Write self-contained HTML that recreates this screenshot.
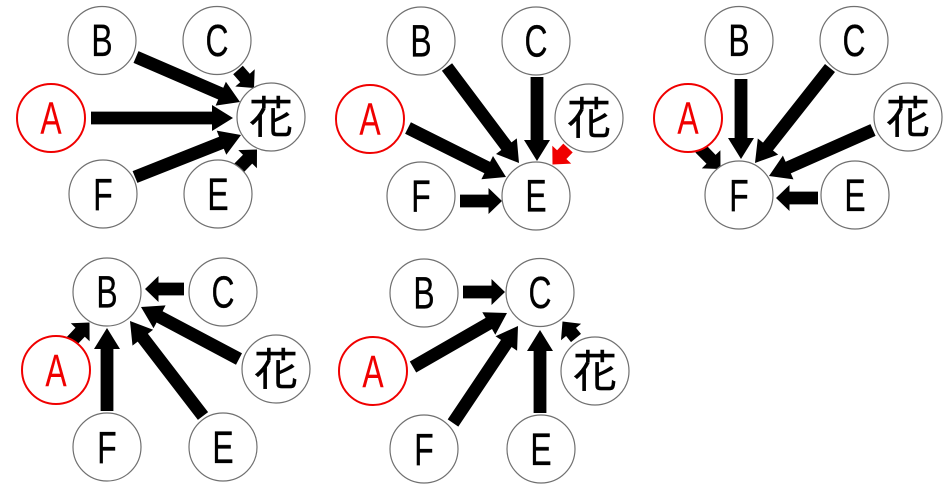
<!DOCTYPE html>
<html lang="ja">
<head>
<meta charset="utf-8">
<title>Diagram</title>
<style>
html,body{margin:0;padding:0;background:#fff;width:951px;height:491px;overflow:hidden}
svg{display:block}
#all{filter:blur(.35px)}
circle{fill:#fff;stroke:#707070;stroke-width:1.2}
circle.a{stroke:#f00000;stroke-width:2}
text{font-family:"Liberation Sans","Noto Sans CJK JP",sans-serif;font-size:45.5px;text-anchor:middle;fill:#000;stroke:#000;stroke-width:.3}
text.a{fill:#f00000;stroke:#f00000;stroke-width:.1}
text.k{font-size:44px;stroke-width:.4}
</style>
</head>
<body>
<svg id="s" xmlns="http://www.w3.org/2000/svg" width="951" height="491" viewBox="0 0 951 491">
<g id="all">
<g id="arrows"></g>
<g>
<circle cx="102" cy="40.5" r="34"/><text transform="translate(102 56) scale(.7 1)">B</text>
<circle cx="217" cy="40.5" r="34"/><text transform="translate(217 56) scale(.7 1)">C</text>
<circle class="a" cx="51" cy="118" r="34"/><text class="a" transform="translate(51 133.500) scale(.7 1)">A</text>
<circle cx="271" cy="117" r="34"/><text class="k" x="271" y="133">花</text>
<circle cx="103" cy="194" r="34"/><text transform="translate(103 210) scale(.7 1)">F</text>
<circle cx="218" cy="194" r="34"/><text transform="translate(218 210) scale(.7 1)">E</text>

<circle cx="421" cy="41" r="34"/><text transform="translate(421 56.500) scale(.7 1)">B</text>
<circle cx="536" cy="41" r="34"/><text transform="translate(536 56.500) scale(.7 1)">C</text>
<circle class="a" cx="370" cy="119" r="34"/><text class="a" transform="translate(370 134.500) scale(.7 1)">A</text>
<circle cx="589" cy="118" r="34"/><text class="k" x="589" y="134">花</text>
<circle cx="421" cy="196" r="34"/><text transform="translate(421 211.500) scale(.7 1)">F</text>
<circle cx="536" cy="196" r="34"/><text transform="translate(536 211.500) scale(.7 1)">E</text>

<circle cx="739" cy="40.5" r="34"/><text transform="translate(739 56) scale(.7 1)">B</text>
<circle cx="854" cy="40.5" r="34"/><text transform="translate(854 56) scale(.7 1)">C</text>
<circle class="a" cx="688" cy="118" r="34"/><text class="a" transform="translate(688 133.500) scale(.7 1)">A</text>
<circle cx="908" cy="117" r="34"/><text class="k" x="908" y="133">花</text>
<circle cx="739" cy="195" r="34"/><text transform="translate(739 211) scale(.7 1)">F</text>
<circle cx="855" cy="195" r="34"/><text transform="translate(855 211) scale(.7 1)">E</text>

<circle cx="107" cy="292" r="34"/><text transform="translate(107 307.500) scale(.7 1)">B</text>
<circle cx="223" cy="292" r="34"/><text transform="translate(223 307.500) scale(.7 1)">C</text>
<circle class="a" cx="56" cy="370" r="34"/><text class="a" transform="translate(56 386) scale(.7 1)">A</text>
<circle cx="276" cy="369" r="34"/><text class="k" x="276" y="385">花</text>
<circle cx="107" cy="447" r="34"/><text transform="translate(107 463) scale(.7 1)">F</text>
<circle cx="223" cy="447" r="34"/><text transform="translate(223 463) scale(.7 1)">E</text>

<circle cx="424" cy="293" r="34"/><text transform="translate(424 308.500) scale(.7 1)">B</text>
<circle cx="540" cy="292.500" r="34"/><text transform="translate(540 308) scale(.7 1)">C</text>
<circle class="a" cx="373" cy="371" r="34"/><text class="a" transform="translate(373 387) scale(.7 1)">A</text>
<circle cx="595" cy="371" r="34"/><text class="k" x="595" y="387">花</text>
<circle cx="424" cy="449" r="34"/><text transform="translate(424 465) scale(.7 1)">F</text>
<circle cx="541" cy="449" r="34"/><text transform="translate(541 465) scale(.7 1)">E</text>
</g>
</g>
</svg>
<script>
var data=[
[136,57,240,102],[91,118,233,118],[238,70,254,88],[135,177,241,135],[238,169,257,149.5],
[447,67,519,163],[537,77,537,161],[408,128,506,177],[568,148,552.5,164.5,'#f00000'],[460,201,502,201],
[741,79,741,159],[830,68,755,163],[873,130,769,176],[700,148,720.5,169],[818,198,776,198],
[184,289,145,289],[239,359,141,307],[203,416,130,321],[107,411,107,328],[68,345,89.5,322.5],
[463,292,505,292],[413,367,507,313],[453,423,518,326],[540,413,540,330],[576,338,562.5,321.5]
];
var g=document.getElementById('arrows');
data.forEach(function(d){
  var dx=d[2]-d[0],dy=d[3]-d[1],L=Math.sqrt(dx*dx+dy*dy),ux=dx/L,uy=dy/L,nx=-uy,ny=ux;
  var sw=6.4,hw=13,hl=L<50?13.5:21;
  var bx=d[2]-ux*hl,by=d[3]-uy*hl;
  var pts=[
    [d[0]+nx*sw,d[1]+ny*sw],[bx+nx*sw,by+ny*sw],[bx+nx*hw,by+ny*hw],
    [d[2],d[3]],
    [bx-nx*hw,by-ny*hw],[bx-nx*sw,by-ny*sw],[d[0]-nx*sw,d[1]-ny*sw]
  ];
  var p=document.createElementNS('http://www.w3.org/2000/svg','polygon');
  p.setAttribute('points',pts.map(function(q){return q[0].toFixed(1)+','+q[1].toFixed(1)}).join(' '));
  p.setAttribute('fill',d[4]||'#000');
  g.appendChild(p);
});
</script>
</body>
</html>
